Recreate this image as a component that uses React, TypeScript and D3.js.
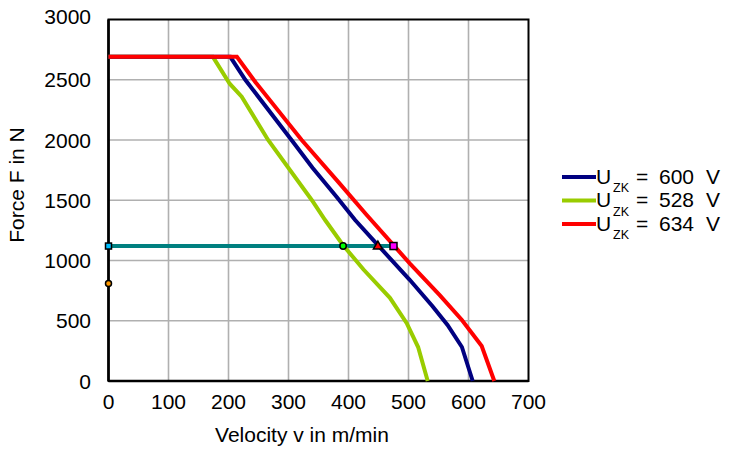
import React from "react";
import * as d3 from "d3";

type Pt = [number, number];

const xTicks = [0, 100, 200, 300, 400, 500, 600, 700];
const yTicks = [0, 500, 1000, 1500, 2000, 2500, 3000];

const curve600: Pt[] = [
  [0, 2690], [203, 2690], [228, 2500], [305, 2000], [340, 1770], [380, 1529],
  [411, 1336], [449, 1127], [502, 840], [540, 620], [565, 465], [589, 282], [607, 0],
];
const curve528: Pt[] = [
  [0, 2690], [174, 2690], [202, 2467], [222, 2360], [266, 2000], [339, 1500],
  [361, 1336], [391, 1127], [425, 925], [469, 690], [497, 480], [516, 282], [532, 0],
];
const curve634: Pt[] = [
  [0, 2690], [214, 2690], [245, 2480], [322, 2000], [385, 1640], [430, 1380],
  [475, 1127], [502, 977], [552, 713], [589, 506], [622, 290], [643, 0],
];

const seriesNames = ["600", "528", "634"];
const seriesColors = ["#000080", "#99cc00", "#ff0000"];
const seriesData = [curve600, curve528, curve634];

const opForce = 1120;
const opVelocityEnd = 475;
const markerGreen: Pt = [391, 1120];
const markerTriangle: Pt = [449, 1120];
const markerMagenta: Pt = [475, 1120];
const markerStart: Pt = [0, 1120];
const markerOrange: Pt = [0, 810];

const FONT = "'Liberation Sans', Arial, sans-serif";

export default function App() {
  const x = d3.scaleLinear().domain([0, 700]).range([108.5, 528.5]);
  const y = d3.scaleLinear().domain([0, 3000]).range([381, 19.5]);
  const line = d3
    .line<Pt>()
    .x((d) => x(d[0]))
    .y((d) => y(d[1]));

  const drawOrder = [1, 0, 2];

  return (
    <svg
      width={754}
      height={451}
      style={{ position: "absolute", left: 0, top: 0, background: "#fff" }}
      fontFamily={FONT}
    >
      <rect x={0} y={0} width={754} height={451} fill="#fff" />
      {/* grid */}
      {xTicks.slice(1, -1).map((t) => (
        <line key={"gx" + t} x1={x(t)} x2={x(t)} y1={y(3000)} y2={y(0)} stroke="#b0b0b0" strokeWidth={1.6} />
      ))}
      {yTicks.slice(1, -1).map((t) => (
        <line key={"gy" + t} x1={x(0)} x2={x(700)} y1={y(t)} y2={y(t)} stroke="#b0b0b0" strokeWidth={1.6} />
      ))}
      {/* frame */}
      <rect x={x(0)} y={y(3000)} width={x(700) - x(0)} height={y(0) - y(3000)} fill="none" stroke="#000" strokeWidth={2} />
      <line x1={x(0)} x2={x(0)} y1={y(3000)} y2={y(0)} stroke="#000" strokeWidth={2.6} />
      <line x1={x(0)} x2={x(700)} y1={y(0)} y2={y(0)} stroke="#000" strokeWidth={2.6} />

      {/* operating line */}
      <line x1={x(0)} x2={x(opVelocityEnd)} y1={y(opForce)} y2={y(opForce)} stroke="#008080" strokeWidth={4} />

      {/* curves */}
      {drawOrder.map((i) => (
        <path key={"c" + i} d={line(seriesData[i]) || ""} fill="none" stroke={seriesColors[i]} strokeWidth={4} strokeLinejoin="miter" />
      ))}

      {/* markers */}
      <rect x={x(markerStart[0]) - 3} y={y(markerStart[1]) - 3} width={6} height={6} fill="#00bfff" stroke="#000" strokeWidth={1.5} />
      <circle cx={x(markerOrange[0])} cy={y(markerOrange[1])} r={3} fill="#ff9900" stroke="#000" strokeWidth={1.5} />
      <circle cx={x(markerGreen[0])} cy={y(markerGreen[1])} r={3.2} fill="#00ff00" stroke="#000" strokeWidth={1.5} />
      <path
        d={`M${x(markerTriangle[0])},${y(markerTriangle[1]) - 5} L${x(markerTriangle[0]) + 4.5},${y(markerTriangle[1]) + 3} L${x(markerTriangle[0]) - 4.5},${y(markerTriangle[1]) + 3} Z`}
        fill="#ff0000"
        stroke="#000"
        strokeWidth={1.5}
      />
      <rect x={x(markerMagenta[0]) - 3.5} y={y(markerMagenta[1]) - 3.5} width={7} height={7} fill="#ff00ff" stroke="#000" strokeWidth={1.5} />

      {/* tick labels */}
      {xTicks.map((t) => (
        <text key={"tx" + t} x={x(t)} y={409} fontSize={21} textAnchor="middle" fill="#000">
          {t}
        </text>
      ))}
      {yTicks.map((t) => (
        <text key={"ty" + t} x={91} y={t === 3000 ? y(t) - 3 : y(t)} dy="0.36em" fontSize={21} textAnchor="end" fill="#000">
          {t}
        </text>
      ))}
      {/* axis titles */}
      <text x={302} y={442} fontSize={21} textAnchor="middle" fill="#000">
        Velocity v in m/min
      </text>
      <text transform="translate(24,185) rotate(-90)" fontSize={21} textAnchor="middle" fill="#000">
        Force F in N
      </text>

      {/* legend */}
      {seriesNames.map((n, i) => {
        const cy = 177 + i * 23.5;
        return (
          <g key={"lg" + i}>
            <line x1={562} x2={596} y1={cy} y2={cy} stroke={seriesColors[i]} strokeWidth={4} />
            <text x={596} y={cy + 6.5} fontSize={21} fill="#000">U</text>
            <text x={613} y={cy + 15} fontSize={12.5} fill="#000">ZK</text>
            <text x={636} y={cy + 6.5} fontSize={21} fill="#000">=</text>
            <text x={659} y={cy + 6.5} fontSize={21} fill="#000">{n}</text>
            <text x={706} y={cy + 6.5} fontSize={21} fill="#000">V</text>
          </g>
        );
      })}
    </svg>
  );
}
